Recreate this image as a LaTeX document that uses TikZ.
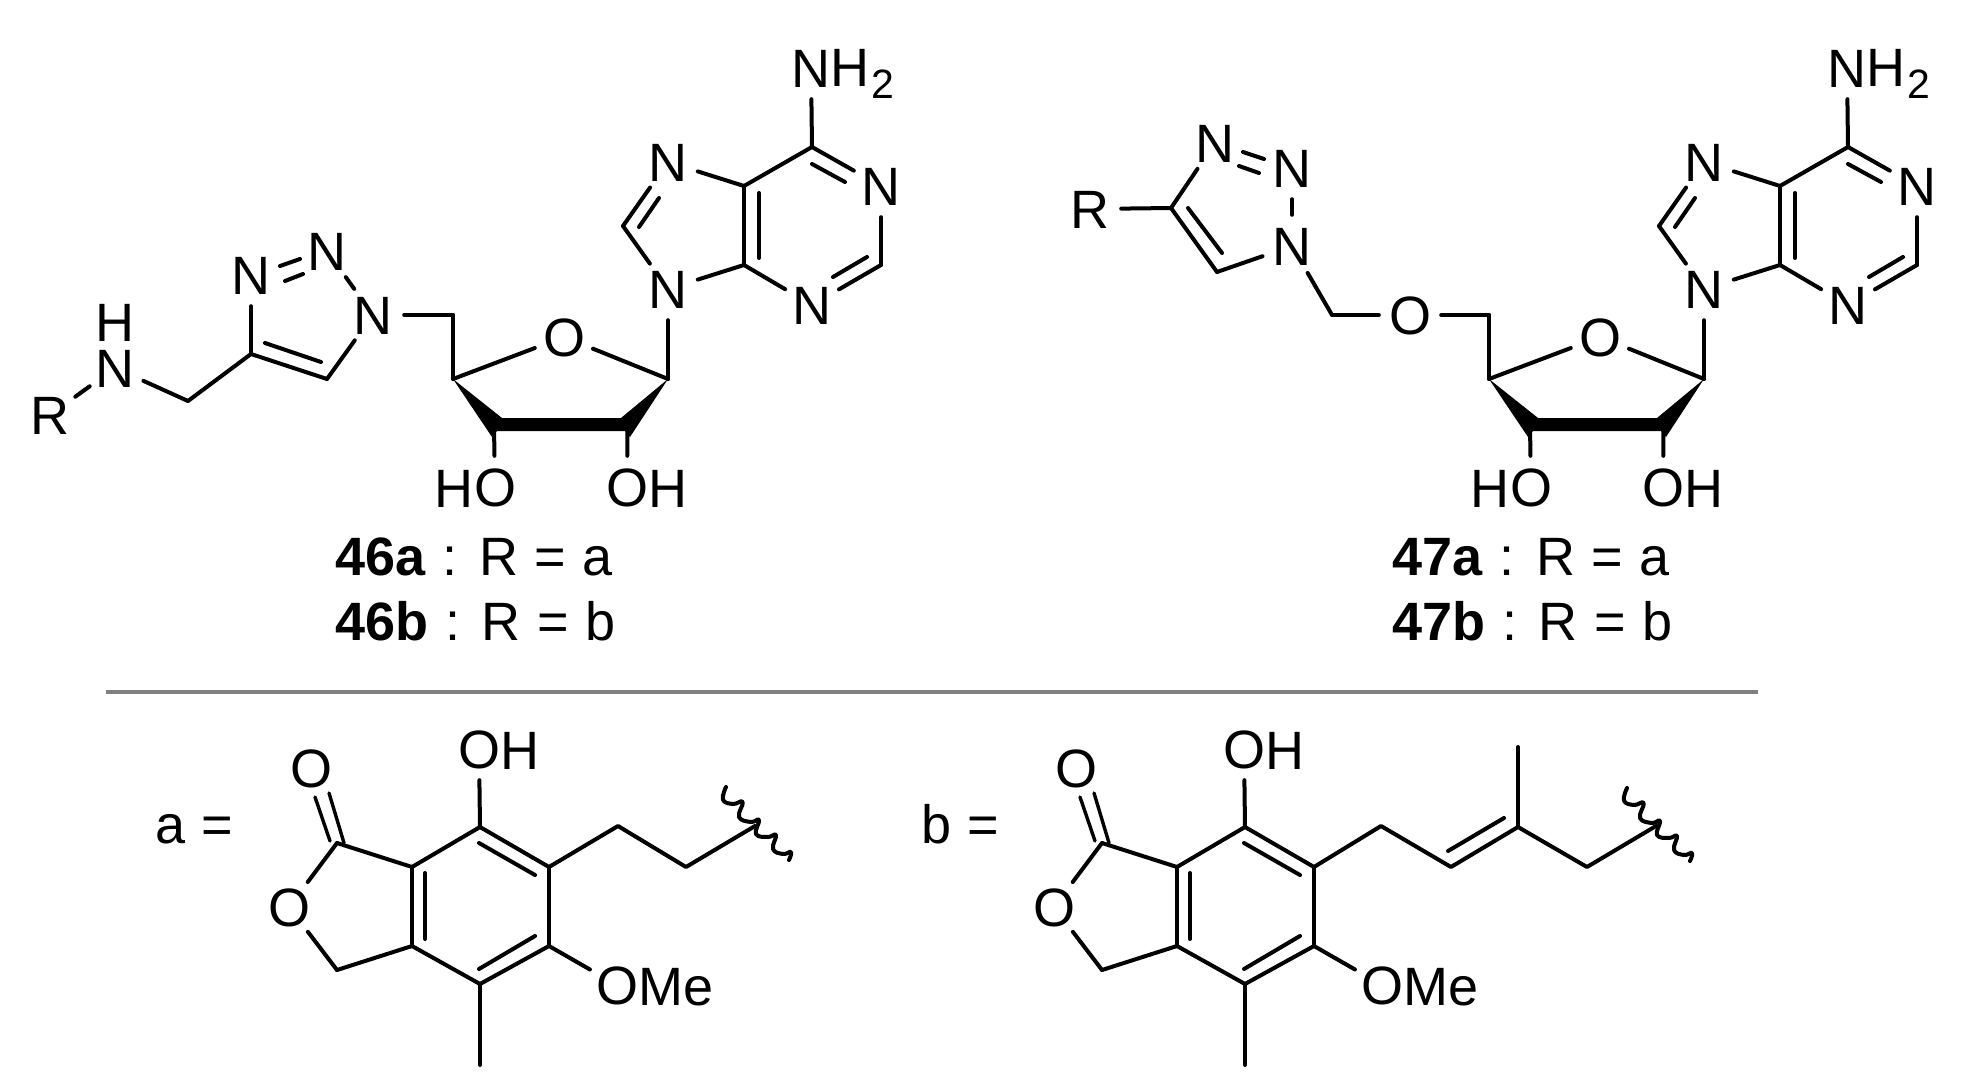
\documentclass[tikz,border=0pt]{standalone}
\usepackage{fontspec}
\setmainfont[WordSpace=1.1]{Liberation Sans}
\usetikzlibrary{calc}
\tikzset{
  bond/.style={line width=4pt,line cap=round,line join=round,black},
  thinbond/.style={line width=3.4pt,line cap=round,line join=round,black},
  atom/.style={circle,minimum size=62pt,inner sep=0pt,font=\fontsize{54}{54}\selectfont,text height=38.7pt,text depth=0pt},
  lbl/.style={inner sep=0pt,font=\fontsize{54}{54}\selectfont,anchor=base west},
  lble/.style={inner sep=0pt,font=\fontsize{54}{54}\selectfont,anchor=base east},
  wave/.style={line width=4pt,line cap=round,line join=round},
  rulegray/.style={line width=4pt,draw=gray}
}
% wavy attachment mark, relative to its upper end
\newcommand{\wavemark}{
  \draw[wave] plot[smooth,tension=.75] coordinates {(0,0) (-3,12.7) (7,17) (16.7,15) (13,30) (25,35) (33,33) (30,47) (42,50) (50,48) (47,62) (57,67) (65,65) (63,73)};
}
% purine + ribose fragment, prefix #1
\newcommand{\adenosineFrag}[1]{
  \coordinate (#1c6) at (812,147);
  \coordinate (#1c5) at (744,186);
  \coordinate (#1c4) at (744,265);
  \coordinate (#1c2) at (881,265);
  \coordinate (#1c8) at (623,226);
  \coordinate (#1c1p) at (668,379);
  \coordinate (#1c4p) at (453,379);
  \coordinate (#1c3p) at (494,427);
  \coordinate (#1c2p) at (627.5,427);
  \coordinate (#1ch2) at (453,315);
  \node[atom] (#1n6) at (811,68) {N};
  \node[lbl] (#1h2) at (830.5,87) {H\hspace{1.5pt}{\fontsize{41}{41}\selectfont\raisebox{-12pt}{2}}};
  \node[atom] (#1n1) at (881,186) {N};
  \node[atom] (#1n3) at (812,305) {N};
  \node[atom] (#1n7) at (668,162) {N};
  \node[atom] (#1n9) at (668,289) {N};
  \node[atom] (#1o) at (564,337) {O};
  \node[atom] (#1ho3) at (495,487) {O};
  \node[atom] (#1ho2) at (627,487) {O};
  \node[lble] (#1h3) at (474,507.5) {H};
  \node[lbl] (#1h4) at (648,507.5) {H};
  \draw[bond] (#1n6) -- (#1c6);
  \draw[bond] (#1c6) -- (#1n1);
  \draw[bond] (#1c6) -- (#1c5);
  \draw[bond] (#1c5) -- (#1c4);
  \draw[bond] (#1c5) -- (#1n7);
  \draw[bond] (#1n7) -- (#1c8);
  \draw[bond] (#1c8) -- (#1n9);
  \draw[bond] (#1n9) -- (#1c4);
  \draw[bond] (#1c4) -- (#1n3);
  \draw[bond] (#1n3) -- (#1c2);
  \draw[bond] (#1c2) -- (#1n1);
  \draw[bond] (812,164) -- (845,182);
  \draw[bond] (759,193) -- (759,258);
  \draw[bond] (659,198) -- (639,227);
  \draw[bond] (833,277) -- (867,257);
  \draw[bond] (#1n9) -- (#1c1p);
  \draw[bond] (#1o) -- (#1c1p);
  \draw[bond] (#1o) -- (#1c4p);
  \draw[bond] (#1c4p) -- (#1ch2);
  \fill[black] (#1c4p) -- (502,418) -- (621,418) -- (#1c1p) -- (630,437) -- (625,431) -- (497,431) -- (492,437) -- cycle;
  \draw[bond] (#1c3p) -- (#1ho3);
  \draw[bond] (#1c2p) -- (#1ho2);
}
% phthalide fragment, prefix #1
\newcommand{\phthalideFrag}[1]{
  \coordinate (#1c1) at (337,843);
  \coordinate (#1c7a) at (412,867);
  \coordinate (#1c3a) at (412,946);
  \coordinate (#1c4) at (480,984);
  \coordinate (#1c5) at (549,946);
  \coordinate (#1c6) at (549,867);
  \coordinate (#1c7) at (480,827);
  \coordinate (#1c3) at (337,970);
  \coordinate (#1me) at (480,1065);
  \node[atom] (#1oc) at (311,768) {O};
  \node[atom] (#1or) at (289,907) {O};
  \node[atom] (#1oh) at (479,749) {O};
  \node[lbl] (#1hh) at (500,769.5) {H};
  \node[atom] (#1om) at (617,985) {O};
  \node[lbl] (#1met) at (638,1005) {Me};
  \draw[thinbond] (315,797) -- (330,841);
  \draw[thinbond] (329,793) -- (344,843);
  \draw[bond] (#1c1) -- (#1c7a);
  \draw[bond] (#1c1) -- (#1or);
  \draw[bond] (#1or) -- (#1c3);
  \draw[bond] (#1c3) -- (#1c3a);
  \draw[bond] (#1c7a) -- (#1c3a);
  \draw[bond] (#1c3a) -- (#1c4);
  \draw[bond] (#1c4) -- (#1c5);
  \draw[bond] (#1c5) -- (#1c6);
  \draw[bond] (#1c6) -- (#1c7);
  \draw[bond] (#1c7) -- (#1c7a);
  \draw[bond] (479,843) -- (535,875);
  \draw[bond] (425,873) -- (425,939);
  \draw[bond] (535,936) -- (479,969);
  \draw[bond] (#1c7) -- (#1oh);
  \draw[bond] (#1c5) -- (#1om);
  \draw[bond] (#1c4) -- (#1me);
}
\begin{document}
\begin{tikzpicture}[x=1pt,y=-1pt]
\useasboundingbox (0,0) rectangle (1973,1078);
% --- compound 46
\adenosineFrag{p}
\coordinate (pc5t) at (327,379);
\coordinate (pc4t) at (251,354);
\coordinate (pl1) at (188,401);
\node[atom] (pn1t) at (373,315) {N};
\node[atom] (pn2t) at (327,251) {N};
\node[atom] (pn3t) at (251,275) {N};
\node[atom] (pnh) at (115,368) {N};
\node[lbl] (phh) at (95.5,341) {H};
\node[atom] (pr) at (50,415) {R};
\draw[bond] (pn1t) -- (pch2);
\draw[bond,shorten >=1pt,shorten <=1pt] (pn2t) -- (pn1t);
\draw[bond] (280,266) -- (300,259);
\draw[bond] (285,281) -- (303,274);
\draw[bond] (pn1t) -- (pc5t);
\draw[bond] (pc5t) -- (pc4t);
\draw[bond] (321,362) -- (265,343);
\draw[bond] (pn3t) -- (pc4t);
\draw[bond] (pc4t) -- (pl1);
\draw[bond] (pl1) -- (pnh);
\draw[bond] (pnh) -- (pr);
% --- compound 47
\begin{scope}[xshift=1036pt]
\adenosineFrag{q}
\end{scope}
\coordinate (qc4t) at (1171,208);
\coordinate (qc5t) at (1217,272);
\coordinate (ql1) at (1332,315);
\node[atom] (qr) at (1090,209) {R};
\node[atom] (qn3t) at (1215,143) {N};
\node[atom] (qn2t) at (1292,168) {N};
\node[atom] (qn1t) at (1292,246) {N};
\node[atom] (qol) at (1410,315) {O};
\draw[bond] (qr) -- (qc4t);
\draw[bond] (qc4t) -- (qn3t);
\draw[bond] (1243,152) -- (1264,159);
\draw[bond] (1239,166) -- (1259,173);
\draw[bond] (qn2t) -- (qn1t);
\draw[bond] (qn1t) -- (qc5t);
\draw[bond] (qc5t) -- (qc4t);
\draw[bond] (1222,253) -- (1188,208);
\draw[bond] (qn1t) -- (ql1);
\draw[bond] (ql1) -- (qol);
\draw[bond] (qol) -- (qch2);
% --- captions
\node[lbl] (cap1) at (335.5,575) {\textbf{46a} : R = a};
\node[lbl] (cap2) at (335.5,640) {\textbf{46b} : R = b};
\node[lbl] (cap3) at (1392.5,575) {\textbf{47a} : R = a};
\node[lbl] (cap4) at (1392.5,640) {\textbf{47b} : R = b};
% --- separator
\coordinate (sepl) at (106,692);
\coordinate (sepr) at (1758,692);
\draw[rulegray] (sepl) -- (sepr);
% --- fragment a
\node[lbl] (labela) at (155,843) {a =};
\phthalideFrag{a}
\coordinate (ac1) at (618,826);
\coordinate (ac2) at (686,867);
\coordinate (ac3) at (755,826);
\draw[bond] (ac6) -- (ac1) -- (ac2) -- (ac3);
\begin{scope}[shift={(726,787)}]
\wavemark
\end{scope}
% --- fragment b
\node[lbl] (labelb) at (921,843) {b =};
\begin{scope}[xshift=765pt]
\phthalideFrag{b}
\end{scope}
\coordinate (bc1) at (1381,826);
\coordinate (bc2) at (1451,867);
\coordinate (bc3) at (1518,827);
\coordinate (bc4) at (1587,867);
\coordinate (bc5) at (1656,826);
\coordinate (bme2) at (1518,747);
\draw[bond] (bc6) -- (bc1) -- (bc2) -- (bc3) -- (bc4) -- (bc5);
\draw[bond] (bc3) -- (bme2);
\draw[bond] (1448,851) -- (1504,818);
\begin{scope}[shift={(1627,788)}]
\wavemark
\end{scope}
\end{tikzpicture}
\end{document}
